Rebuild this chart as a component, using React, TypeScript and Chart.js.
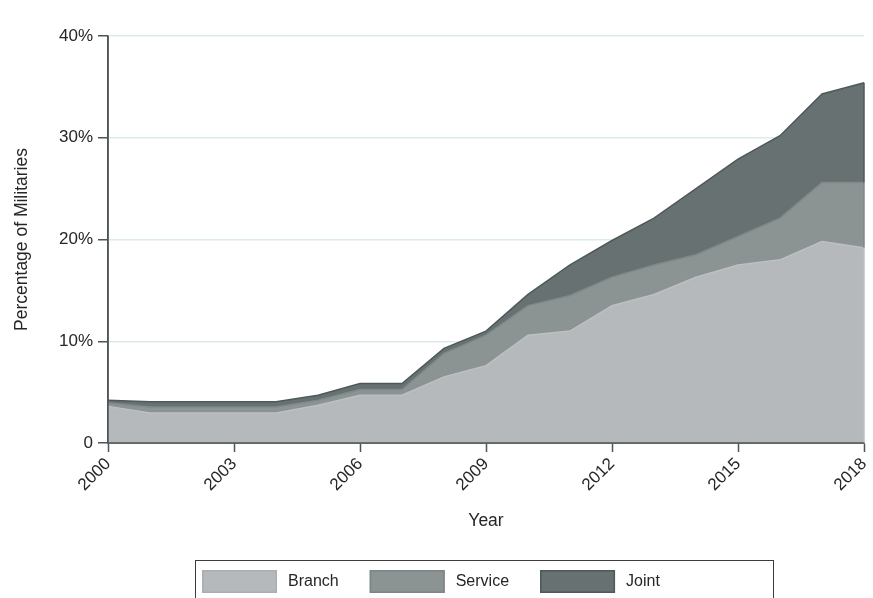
import React, { useEffect, useRef } from 'react';
import { Chart, registerables } from 'chart.js';

Chart.register(...registerables);

// ---- data (percent of militaries, stacked) ----
const years = ['2000', '2001', '2002', '2003', '2004', '2005', '2006', '2007', '2008', '2009', '2010', '2011', '2012', '2013', '2014', '2015', '2016', '2017', '2018'];
const branch = [3.6, 2.95, 2.95, 2.95, 2.95, 3.7, 4.7, 4.7, 6.5, 7.6, 10.6, 11.0, 13.5, 14.6, 16.3, 17.5, 18.0, 19.8, 19.2];
const service = [0.35, 0.6, 0.6, 0.6, 0.6, 0.5, 0.55, 0.55, 2.3, 3.0, 2.9, 3.5, 2.8, 2.9, 2.2, 2.8, 4.1, 5.8, 6.4];
const joint = [0.25, 0.5, 0.5, 0.5, 0.5, 0.5, 0.6, 0.6, 0.5, 0.4, 1.1, 3.0, 3.6, 4.6, 6.5, 7.6, 8.1, 8.7, 9.8];
const labeledYears = ['2000', '2003', '2006', '2009', '2012', '2015', '2018'];
const seriesNames = ['Branch', 'Service', 'Joint'];

const FONT = "'Liberation Sans', Arial, Helvetica, sans-serif";
const TEXT = '#262626';
const AXIS = '#4f5455';
const GRID = '#dcecee';

const fills = ['#b5b9bc', '#8b9393', '#687172'];
const lines = ['#bcc0c2', '#7f8989', '#4e5959'];
const swatchLines = ['#a9aeb1', '#7c8686', '#4e5959'];

export default function App() {
  const ref = useRef<HTMLCanvasElement>(null);

  useEffect(() => {
    document.body.style.margin = '0';

    const edgePlugin = {
      id: 'edges',
      afterDatasetsDraw(chart: any) {
        const ctx = chart.ctx;
        const { top, bottom, left, right } = chart.chartArea;
        const ys = chart.scales.y;
        const n = years.length - 1;
        ctx.save();
        chart.data.datasets.forEach((ds: any, i: number) => {
          const p = chart.getDatasetMeta(i).data[n];
          const lower = i === 0 ? ys.getPixelForValue(0) : chart.getDatasetMeta(i - 1).data[n].y;
          ctx.strokeStyle = ds.borderColor;
          ctx.lineWidth = 1.5;
          ctx.beginPath();
          ctx.moveTo(p.x, p.y);
          ctx.lineTo(p.x, lower);
          ctx.stroke();
        });
        ctx.strokeStyle = AXIS;
        ctx.lineWidth = 1.5;
        ctx.beginPath();
        ctx.moveTo(left, top);
        ctx.lineTo(left, bottom);
        ctx.lineTo(right, bottom);
        ctx.stroke();
        ctx.restore();
      },
    };

    const legendPlugin = {
      id: 'boxLegend',
      afterDraw(chart: any) {
        const ctx = chart.ctx;
        ctx.save();
        ctx.strokeStyle = '#3c3c3c';
        ctx.lineWidth = 1;
        ctx.strokeRect(195.5, 560.5, 578, 60);
        ctx.font = `16px ${FONT}`;
        ctx.textBaseline = 'middle';
        ctx.textAlign = 'left';
        let x = 202;
        chart.data.datasets.forEach((ds: any, i: number) => {
          ctx.fillStyle = ds.backgroundColor;
          ctx.fillRect(x, 570, 75, 23);
          ctx.strokeStyle = swatchLines[i];
          ctx.lineWidth = 1.5;
          ctx.strokeRect(x + 0.75, 570.75, 73.5, 21.5);
          ctx.fillStyle = TEXT;
          ctx.fillText(ds.label, x + 86, 582);
          x += 86 + ctx.measureText(ds.label).width + 31;
        });
        ctx.restore();
      },
    };

    const chart = new Chart(ref.current!, {
      type: 'line',
      data: {
        labels: years,
        datasets: [
          { label: seriesNames[0], data: branch, backgroundColor: fills[0], borderColor: lines[0], fill: 'origin' },
          { label: seriesNames[1], data: service, backgroundColor: fills[1], borderColor: lines[1], fill: '-1' },
          { label: seriesNames[2], data: joint, backgroundColor: fills[2], borderColor: lines[2], fill: '-1' },
        ],
      },
      options: {
        responsive: false,
        animation: false,
        layout: { padding: { top: 36, right: 9, bottom: 40, left: 0 } },
        elements: { point: { radius: 0 }, line: { borderWidth: 1.5, tension: 0 } },
        plugins: { legend: { display: false }, tooltip: { enabled: false } },
        scales: {
          x: {
            type: 'category',
            offset: false,
            grid: {
              drawOnChartArea: false,
              drawTicks: true,
              tickLength: 9,
              tickWidth: 1.5,
              tickColor: (c: any) => (labeledYears.includes(years[c.index]) ? AXIS : 'transparent'),
            },
            border: { color: AXIS, width: 1.5 },
            ticks: {
              autoSkip: false,
              minRotation: 45,
              maxRotation: 45,
              padding: 2,
              color: TEXT,
              font: { family: FONT, size: 17 },
              callback: (_v: any, i: number) => (labeledYears.includes(years[i]) ? years[i] : ''),
            },
            title: {
              display: true,
              text: 'Year',
              color: TEXT,
              font: { family: FONT, size: 17.5, lineHeight: 1.2 },
              padding: { top: 0, bottom: 26.5 },
            },
            afterFit: (s: any) => {
              s.height = 115;
              s.paddingRight = 0;
              s.paddingLeft = 0;
            },
          },
          y: {
            stacked: true,
            min: 0,
            max: 40,
            ticks: {
              stepSize: 10,
              padding: 5,
              color: TEXT,
              font: { family: FONT, size: 17 },
              callback: (v: any) => (v === 0 ? '0' : v + '%'),
            },
            grid: {
              color: (c: any) => (c.tick && c.tick.value === 0 ? 'transparent' : GRID),
              lineWidth: 1.5,
              tickColor: AXIS,
              tickLength: 10,
              tickWidth: 1.5,
            },
            border: { color: AXIS, width: 1.5 },
            title: {
              display: true,
              text: 'Percentage of Militaries',
              color: TEXT,
              font: { family: FONT, size: 17.5, lineHeight: 1.2 },
              padding: { top: 12, bottom: 0 },
            },
            afterFit: (s: any) => {
              s.width = 108;
            },
          },
        },
      } as any,
      plugins: [edgePlugin, legendPlugin],
    });
    return () => chart.destroy();
  }, []);

  return <canvas ref={ref} width={873} height={598} style={{ display: 'block' }} />;
}
